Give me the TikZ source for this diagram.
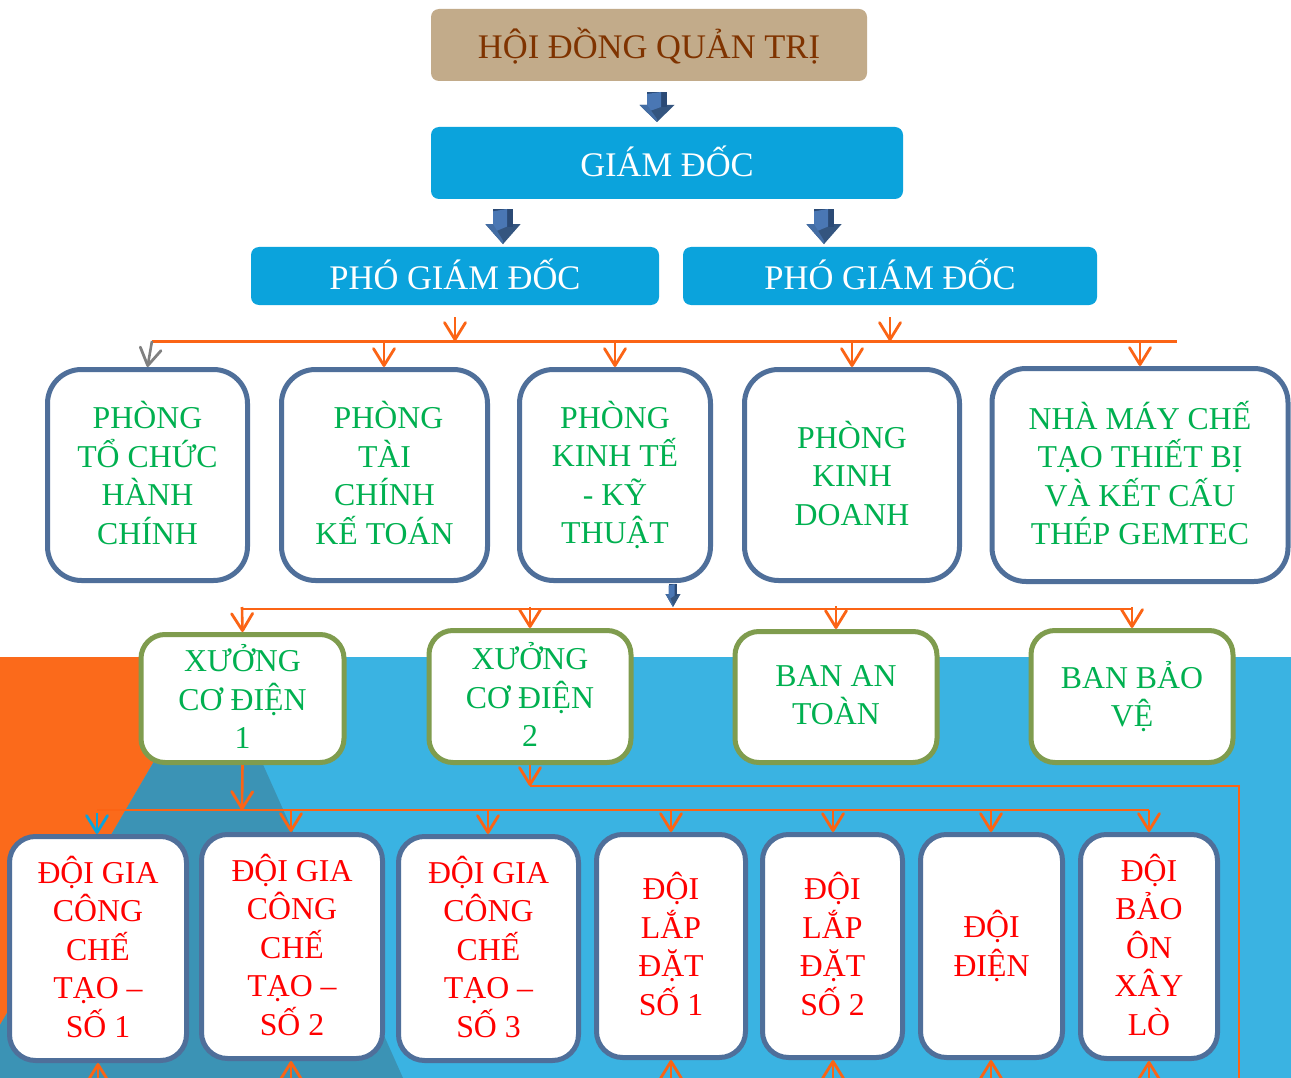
\documentclass[tikz,border=0pt]{standalone}
\usepackage{fontspec}
\setmainfont{Liberation Serif}
\usetikzlibrary{arrows.meta}
\definecolor{bgblue}{HTML}{3AB3E2}
\definecolor{bgteal}{HTML}{3B93B5}
\definecolor{bgorange}{HTML}{FB6A1B}
\definecolor{tanbox}{HTML}{C2AB8A}
\definecolor{tantext}{HTML}{7F3300}
\definecolor{cyanbox}{HTML}{0BA3DC}
\definecolor{slateline}{HTML}{4F6F9A}
\definecolor{oliveline}{HTML}{7F9C4E}
\definecolor{greentext}{HTML}{00B050}
\definecolor{wire}{HTML}{FB6415}
\definecolor{arrowdark}{HTML}{34557F}
\definecolor{arrowlight}{HTML}{4A77B4}
\definecolor{arrowdeep}{HTML}{2B4A75}
\newcommand{\lowstrut}{\rule[\strutdrop]{0pt}{38.5pt}}
\newcommand{\strutdrop}{-6pt}
\tikzset{
  txt/.style={align=center,inner sep=0pt,
    execute at begin node={\lowstrut},execute at end node={\lowstrut}},
  big/.style={font=\fontsize{34.5}{38.5}\selectfont\renewcommand{\strutdrop}{-6pt}},
  small/.style={font=\fontsize{31.8}{38.5}\selectfont\renewcommand{\strutdrop}{-4pt}},
  solidbox/.style={txt,big,rounded corners=8pt,minimum width=#1},
  roomA/.style={txt,small,draw=slateline,fill=white,line width=5pt,rounded corners=34pt,text=greentext},
  roomB/.style={txt,small,draw=oliveline,fill=white,line width=5pt,rounded corners=24pt,text=greentext},
  roomC/.style={txt,small,draw=slateline,fill=white,line width=5pt,rounded corners=26pt,text=red},
  wirebase/.style={draw=wire},
  thick1/.style={wirebase,line width=3pt},
  thick2/.style={wirebase,line width=2pt},
  tip/.style={line width=2.6pt,-{Straight Barb[length=17pt,width=21pt,line width=2.8pt,round]}},
  blockarrow/.pic={
    \fill[arrowdark] (-17.5,13) -- (17.5,13) -- (0,30) -- cycle;
    \fill[arrowdeep] (-10,0) rectangle (10,15);
    \fill[arrowlight] (-10,2) -- (4,0) -- (4,15) -- (-10,20) -- cycle;
    \fill[arrowlight!70!arrowdark] (-17.5,13) -- (-10,13) -- (0,27) -- (0,30) -- cycle;
  }
}
\begin{document}
\begin{tikzpicture}[x=1pt,y=-1pt]
\useasboundingbox (0,0) rectangle (1291,1078);
\clip (0,0) rectangle (1291,1078);
\fill[white] (0,0) rectangle (1291,1078);
% background
\fill[bgblue] (0,657) rectangle (1291,1078);
\fill[bgorange] (0,657) -- (215,657) -- (0,1025) -- cycle;
\fill[bgteal] (215,657) -- (403,1078) -- (0,1078) -- (0,1025) -- cycle;
% top boxes
\node[solidbox=436pt,minimum height=72pt,fill=tanbox,text=tantext] (hdqt) at (649,45) {HỘI ĐỒNG QUẢN TRỊ};
\node[solidbox=472pt,minimum height=72pt,fill=cyanbox,text=white] (gd) at (667,163) {GIÁM ĐỐC};
\node[solidbox=408pt,minimum height=58pt,fill=cyanbox,text=white] (pgdA) at (455,276) {PHÓ GIÁM ĐỐC};
\node[solidbox=414pt,minimum height=58pt,fill=cyanbox,text=white] (pgdB) at (890,276) {PHÓ GIÁM ĐỐC};
% row 1
\node[roomA,minimum width=200pt,minimum height=211pt] (tc) at (147.5,475) {PHÒNG\\TỔ CHỨC\\HÀNH\\CHÍNH};
\node[roomA,minimum width=206pt,minimum height=211pt] (tk) at (384.5,475) {\hspace*{8pt}PHÒNG\\TÀI\\CHÍNH\\KẾ TOÁN};
\node[roomA,minimum width=191pt,minimum height=211pt] (kt) at (615,475) {PHÒNG\\KINH TẾ\\- KỸ\\THUẬT};
\node[roomA,minimum width=215pt,minimum height=211pt] (kd) at (852,475) {PHÒNG\\KINH\\DOANH};
\node[roomA,minimum width=296pt,minimum height=213pt] (nm) at (1140,475) {NHÀ MÁY CHẾ\\TẠO THIẾT BỊ\\VÀ KẾT CẤU\\THÉP GEMTEC};
% row 2
\node[roomB,minimum width=203pt,minimum height=128pt] (xA) at (242.5,698.5) {XƯỞNG\\CƠ ĐIỆN\\1};
\node[roomB,minimum width=202pt,minimum height=132pt] (xB) at (530,696.5) {XƯỞNG\\CƠ ĐIỆN\\2};
\node[roomB,minimum width=202pt,minimum height=131pt] (an) at (836,697) {BAN AN\\TOÀN};
\node[roomB,minimum width=202pt,minimum height=132pt] (bv) at (1132,696.5) {BAN BẢO\\VỆ};
% row 3
\node[roomC,minimum width=177pt,minimum height=224pt] (dA) at (98,948.5) {ĐỘI GIA\\CÔNG\\CHẾ\\TẠO –\\SỐ 1};
\node[roomC,minimum width=181pt,minimum height=224pt] (dB) at (292,946.5) {ĐỘI GIA\\CÔNG\\CHẾ\\TẠO –\\SỐ 2};
\node[roomC,minimum width=180pt,minimum height=224pt] (dC) at (488.5,948.5) {ĐỘI GIA\\CÔNG\\CHẾ\\TẠO –\\SỐ 3};
\node[roomC,minimum width=149pt,minimum height=223pt] (dD) at (671,946) {ĐỘI\\LẮP\\ĐẶT\\SỐ 1};
\node[roomC,minimum width=140pt,minimum height=223pt] (dE) at (832.5,946) {ĐỘI\\LẮP\\ĐẶT\\SỐ 2};
\node[roomC,minimum width=142pt,minimum height=223pt] (dF) at (991.5,946) {ĐỘI\\ĐIỆN};
\node[roomC,minimum width=137pt,minimum height=224pt] (dG) at (1149,946.5) {ĐỘI\\BẢO\\ÔN\\XÂY\\LÒ};
% block arrows
\pic at (657,92) {blockarrow};
\pic[yscale=1.17] at (503,209) {blockarrow};
\pic[yscale=1.17] at (824,209) {blockarrow};
\pic[xscale=.43,yscale=.77] at (673,584) {blockarrow};
% bus 1
\coordinate (busAl) at (152,341);
\coordinate (busAr) at (1177,341);
\coordinate (inA) at (455,317);  \coordinate (inAe) at (455,341);
\coordinate (inB) at (890,317);  \coordinate (inBe) at (890,341);
\draw[thick1] (busAl) -- (busAr);
\draw[tip,draw=wire] (inA) -- (inAe);
\draw[tip,draw=wire] (inB) -- (inBe);
\coordinate (tapB) at (384,341);
\coordinate (tapC) at (615,341);
\coordinate (tapD) at (852,341);
\coordinate (tapE) at (1140,341);
\draw[tip,draw=gray] (busAl) -- (tc.north);
\draw[tip,draw=wire] (tapB) -- (tapB |- tk.north);
\draw[tip,draw=wire] (tapC) -- (tapC |- kt.north);
\draw[tip,draw=wire] (tapD) -- (tapD |- kd.north);
\draw[tip,draw=wire] (tapE) -- (tapE |- nm.north);
% bus 2
\coordinate (busBl) at (242,609);
\coordinate (busBr) at (1132,609);
\draw[thick2] (busBl) -- (busBr);
\coordinate (tapX) at (530,607);
\coordinate (tapY) at (836,606);
\draw[tip,draw=wire] (busBl) ++(0,-2) -- (xA.north);
\draw[tip,draw=wire] (tapX) -- (xB.north);
\draw[tip,draw=wire] (tapY) -- (an.north);
\draw[tip,draw=wire] (busBr) ++(0,-2) -- (bv.north);
% xuong 1 to bus 3
\coordinate (busCl) at (97,810);
\coordinate (busCr) at (1149,810);
\coordinate (busCm) at (242,810);
\draw[thick2] (busCl) -- (busCr);
\draw[tip,draw=wire] (xA.south) -- (busCm);
\coordinate (dnA) at (97,813);
\coordinate (dnB) at (291,810);
\coordinate (dnC) at (488,810);
\coordinate (dnD) at (671,810);
\coordinate (dnE) at (833,810);
\coordinate (dnF) at (991,810);
\draw[tip,draw=cyanbox] (dnA) -- (dnA |- dA.north);
\draw[tip,draw=wire] (dnB) -- (dnB |- dB.north);
\draw[tip,draw=wire] (dnC) -- (dnC |- dC.north);
\draw[tip,draw=wire] (dnD) -- (dnD |- dD.north);
\draw[tip,draw=wire] (dnE) -- (dnE |- dE.north);
\draw[tip,draw=wire] (dnF) -- (dnF |- dF.north);
\draw[tip,draw=wire] (busCr) -- (busCr |- dG.north);
% xuong 2 line
\coordinate (lnA) at (530,786);
\coordinate (lnB) at (1239,786);
\coordinate (lnC) at (1239,1078);
\draw[tip,draw=wire] (xB.south) -- (lnA);
\draw[thick2] (lnA) -- (lnB) -- (lnC);
% bottom stubs
\coordinate (upA) at (98,1090);
\coordinate (upB) at (291,1090);
\coordinate (upD) at (671,1090);
\coordinate (upE) at (833,1090);
\coordinate (upF) at (991,1090);
\coordinate (upG) at (1149,1090);
\draw[tip,draw=wire] (upA) -- (upA |- dA.south);
\draw[tip,draw=wire] (upB) -- (upB |- dB.south);
\draw[tip,draw=wire] (upD) -- (upD |- dD.south);
\draw[tip,draw=wire] (upE) -- (upE |- dE.south);
\draw[tip,draw=wire] (upF) -- (upF |- dF.south);
\draw[tip,draw=wire] (upG) -- (upG |- dG.south);
\end{tikzpicture}
\end{document}
